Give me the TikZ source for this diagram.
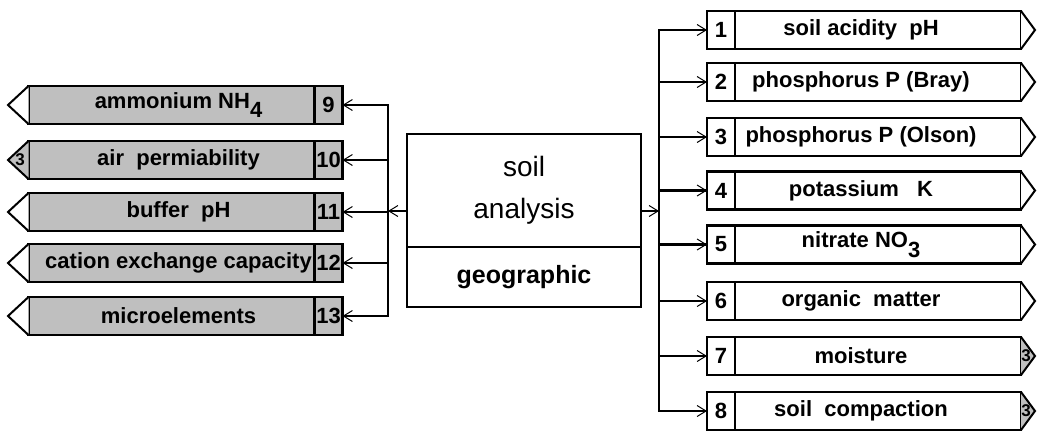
\documentclass[tikz,border=0pt]{standalone}
\usepackage{fontspec}
\setmainfont{Liberation Sans}
\usetikzlibrary{positioning,%
  arrows.meta%
}

\tikzset{
  cell/.style={draw,line width=1.4pt,outer sep=0pt,inner sep=0pt,minimum height=19pt},
  numcell/.style={cell,minimum width=14pt,font=\bfseries\fontsize{11}{13}\selectfont},
  labcell/.style={cell,minimum width=143pt},
  every label/.append style={font=\bfseries\fontsize{11}{13}\selectfont,inner sep=0pt},
  tipbox/.style={line width=1pt,line join=miter},
  tipnum/.style={inner sep=0pt,font=\bfseries\fontsize{8.5}{8.5}\selectfont},
  bus/.style={line width=1.4pt,line cap=rect},
  link/.style={line width=1.4pt,-{Straight Barb[length=4.5pt,width=5.5pt,line width=0.5pt]}}
}

\begin{document}
\begin{tikzpicture}[x=0.5pt,y=-0.5pt]
            \useasboundingbox (0,0) rectangle (1037,430);

            % centre block
            \node[cell,minimum width=117pt,minimum height=56.5pt,align=center,
                  font=\fontsize{14}{21}\selectfont] (soil) at (524,190.5) {soil\\analysis};
            \node[cell,minimum width=117pt,minimum height=30pt,below=0pt of soil,
                  font=\bfseries\fontsize{12.5}{15}\selectfont] (geo) {geographic};

            \coordinate (lbus) at (388,211);
            \coordinate (rbus) at (659,211);
            \draw[link] (soil.west |- lbus) -- (lbus);
            \draw[link] (soil.east |- rbus) -- (rbus);

            % outputs on the right
            \foreach \n/\y/\txt/\tfill/\tnum in {
                1/30/{soil acidity~~pH}/white/{},
                2/82/{phosphorus P (Bray)}/white/{},
                3/137/{phosphorus P (Olson)}/white/{},
                4/190.5/{potassium~~~K}/white/{},
                5/244.5/{nitrate NO\raisebox{-0.8ex}{3}}/white/{},
                6/301/{organic~~matter}/white/{},
                7/356/{moisture}/black!25/3,
                8/411/{soil~~compaction}/black!25/3} {
                \node[numcell] (r\n) at (721,\y) {\n};
                \node[labcell,right=0pt of r\n,label={[xshift=-8.5pt]center:\txt}] (rt\n) {};
                \filldraw[tipbox,fill=\tfill] (rt\n.north east) -- (1035,\y) -- (rt\n.south east);
                \node[tipnum] (rp\n) at (1026,\y) {\tnum};
                \draw[link] (rbus |- r\n) -- (r\n);
            }
            \draw[bus] (rbus |- r1) -- (rbus |- r8);

            % inputs on the left
            \foreach \n/\y/\txt/\tfill/\tnum in {
                9/105/{ammonium NH\raisebox{-0.8ex}{4}}/white/{},
                10/160/{air~~permiability}/black!25/3,
                11/212/{buffer~~pH}/white/{},
                12/263/{cation exchange capacity}/white/{},
                13/316/{microelements}/white/{}} {
                \node[numcell,fill=black!25] (l\n) at (328.5,\y) {\n};
                \node[labcell,fill=black!25,left=0pt of l\n,label={[xshift=3.5pt]center:\txt}] (lt\n) {};
                \filldraw[tipbox,fill=\tfill] (lt\n.north west) -- (8,\y) -- (lt\n.south west);
                \node[tipnum] (lp\n) at (20,\y) {\tnum};
                \draw[link] (lbus |- l\n) -- (l\n);
            }
            \draw[bus] (lbus |- l9) -- (lbus |- l13);
        \end{tikzpicture}
\end{document}
